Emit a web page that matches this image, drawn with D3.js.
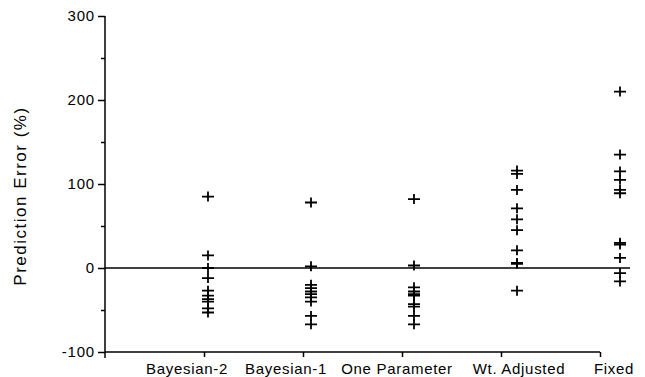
<!DOCTYPE html>
<html lang="en">
<head>
    <meta charset="UTF-8">
    <title>Prediction Error</title>
    <script src="https://cdnjs.cloudflare.com/ajax/libs/d3/7.8.5/d3.min.js"></script>
    <style>
        body { margin: 0; background: #fff; }
        svg { display: block; font-family: "Liberation Sans", Arial, sans-serif; }
        .axis path, .axis line { stroke: #000; stroke-width: 1.5; }
        .axis text { font-size: 15px; fill: #000; letter-spacing: 0.8px; }
    </style>
</head>
<body>
    <svg id="chart" width="645" height="377"></svg>
    <script>
        // Values (prediction error, %)
        const categories = ["Bayesian-2", "Bayesian-1", "One Parameter", "Wt. Adjusted", "Fixed"];
        const bayesian2 = [85, 15, 0, -12, -27, -33, -37, -40, -48, -53];
        const bayesian1 = [78, 2, -20, -24, -28, -31, -35, -40, -57, -67];
        const oneParameter = [82, 3, -23, -28, -31, -33, -43, -46, -57, -67];
        const wtAdjusted = [116, 112, 93, 71, 58, 45, 21, 6, 5, -27];
        const fixed = [210, 135, 115, 105, 93, 89, 30, 28, 12, -6, -16];
        const yTicks = [-100, 0, 100, 200, 300];
        const yMinorTicks = [-50, 50, 150, 250];

        const series = [bayesian2, bayesian1, oneParameter, wtAdjusted, fixed];

        const svg = d3.select("#chart");

        const y = d3.scaleLinear().domain([-100, 300]).range([352, 16]);
        // marks sit a little right of the category ticks in the original
        const x = d3.scalePoint().domain(categories).range([208, 620]);
        const xTick = d3.scaleLinear().domain([0, categories.length]).range([105, 600]);
        const labelNudge = [-21, -25, -17, 2, -6];

        // y axis (plain hyphen minus like the original)
        svg.append("g").attr("class", "axis")
            .attr("transform", "translate(105,0)")
            .call(d3.axisLeft(y).tickValues(yTicks).tickSize(7).tickSizeOuter(0).tickPadding(3)
                .tickFormat(d => String(d)))
            .call(g => g.select(".domain").remove());
        svg.append("g").attr("class", "axis")
            .attr("transform", "translate(105,0)")
            .call(d3.axisLeft(y).tickValues(yMinorTicks).tickSize(4).tickFormat(""))
            .call(g => g.select(".domain").remove());
        svg.append("line")
            .attr("x1", 105).attr("x2", 105)
            .attr("y1", y(300)).attr("y2", y(-100) + 6)
            .attr("stroke", "#000").attr("stroke-width", 1.5);

        // x axis along the bottom
        const xAxis = svg.append("g").attr("class", "axis")
            .attr("transform", `translate(0,${y(-100)})`)
            .call(d3.axisBottom(xTick).tickValues(d3.range(1, categories.length + 1))
                .tickSize(5).tickSizeOuter(0).tickFormat(""));
        xAxis.select(".domain").attr("d", `M105,0H${xTick(categories.length)}`);

        svg.append("g")
            .selectAll("text")
            .data(categories)
            .join("text")
            .attr("x", (d, i) => x(d) + labelNudge[i])
            .attr("y", 374)
            .attr("text-anchor", "middle")
            .attr("font-size", 15)
            .attr("letter-spacing", "0.7px")
            .attr("fill", "#000")
            .text(d => d);

        // zero reference line
        svg.append("line")
            .attr("x1", 105).attr("x2", 630)
            .attr("y1", y(0)).attr("y2", y(0))
            .attr("stroke", "#000").attr("stroke-width", 1.5);

        // y axis title
        svg.append("text")
            .attr("transform", `translate(26,${(y(300) + y(-100)) / 2 + 12}) rotate(-90)`)
            .attr("text-anchor", "middle")
            .attr("font-size", 17)
            .attr("letter-spacing", "1.5px")
            .attr("fill", "#000")
            .text("Prediction Error (%)");

        // plus markers
        const points = series.flatMap((vals, i) => vals.map(v => ({ cat: categories[i], v })));
        svg.append("g")
            .selectAll("path")
            .data(points)
            .join("path")
            .attr("transform", d => `translate(${x(d.cat)},${y(d.v)})`)
            .attr("d", "M-6,0H6M0,-5V5")
            .attr("stroke", "#000")
            .attr("stroke-width", 1.8)
            .attr("fill", "none");
    </script>
</body>
</html>
